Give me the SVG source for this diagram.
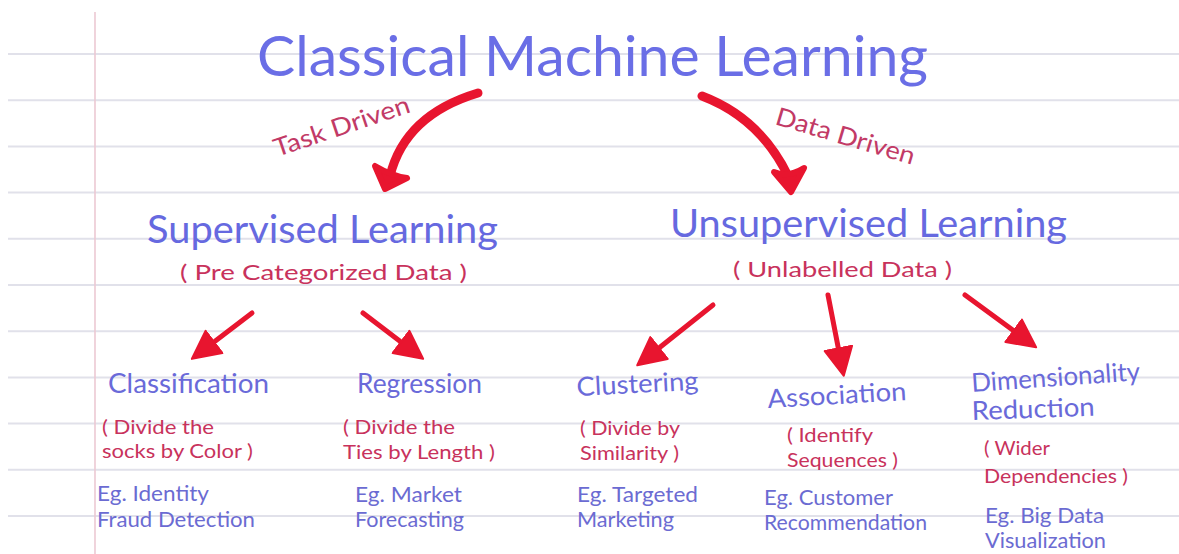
<svg xmlns="http://www.w3.org/2000/svg" width="1179" height="554" viewBox="0 0 1179 554">
  <defs>
    <style>
      .rule { stroke: #e1e1ea; stroke-width: 2; }
      .margin { stroke: #ecc9d3; stroke-width: 1.6; }
      text { font-family: "Lato", "Open Sans", "Liberation Sans", sans-serif; }
      .title { fill: #6a6ee6; font-size: 56px; }
      .head { fill: #6669e0; font-size: 38px; }
      .sub { fill: #c8325c; font-size: 22px; }
      .drive { fill: #c23a66; font-size: 25px; }
      .leaf { fill: #6a6ad9; font-size: 26px; }
      .desc { fill: #c8325c; font-size: 20px; }
      .eg { fill: #6b6bd2; font-size: 21px; }
      .big { fill: none; stroke: #e8152f; stroke-width: 9; stroke-linecap: round; stroke-linejoin: round; }
      .bighead { fill: #e8152f; stroke: #e8152f; stroke-width: 6; stroke-linejoin: round; }
      .small { fill: none; stroke: #e8152f; stroke-width: 5; stroke-linecap: round; }
    </style>
    <marker id="tri" markerUnits="userSpaceOnUse" markerWidth="32" markerHeight="32" viewBox="0 -15 28 30" refX="0" refY="0" orient="auto">
      <path d="M0,-13 L26,0 L0,13 Z" fill="#e8152f" stroke="#e8152f" stroke-width="2" stroke-linejoin="round"/>
    </marker>
  </defs>

  <rect x="0" y="0" width="1179" height="554" fill="#ffffff"/>

  <g id="paper">
    <line class="rule" x1="8" y1="54" x2="1179" y2="54"/>
    <line class="rule" x1="8" y1="100.2" x2="1179" y2="100.2"/>
    <line class="rule" x1="8" y1="146.4" x2="1179" y2="146.4"/>
    <line class="rule" x1="8" y1="192.6" x2="1179" y2="192.6"/>
    <line class="rule" x1="8" y1="238.8" x2="1179" y2="238.8"/>
    <line class="rule" x1="8" y1="285" x2="1179" y2="285"/>
    <line class="rule" x1="8" y1="331.2" x2="1179" y2="331.2"/>
    <line class="rule" x1="8" y1="377.4" x2="1179" y2="377.4"/>
    <line class="rule" x1="8" y1="423.6" x2="1179" y2="423.6"/>
    <line class="rule" x1="8" y1="469.8" x2="1179" y2="469.8"/>
    <line class="rule" x1="8" y1="516" x2="1179" y2="516"/>
    <line class="margin" x1="95" y1="12" x2="95" y2="554"/>
  </g>

  <g id="connectors">
    <path class="big" d="M478,93 Q405,115 390,176"/>
    <path class="bighead" d="M375,166 L385,189 L407,178 Q392,176 375,166 Z"/>
    <path class="big" d="M702,96 Q760,118 788,176"/>
    <path class="bighead" d="M774,172 L791,192 L804,168 Q788,178 774,172 Z"/>
    <line class="small" x1="252" y1="313" x2="214" y2="342" marker-end="url(#tri)"/>
    <line class="small" x1="363" y1="313" x2="401" y2="342" marker-end="url(#tri)"/>
    <line class="small" x1="713" y1="305" x2="659" y2="348" marker-end="url(#tri)"/>
    <line class="small" x1="828" y1="295" x2="838.4" y2="348.4" marker-end="url(#tri)"/>
    <line class="small" x1="965" y1="295" x2="1013.7" y2="330.8" marker-end="url(#tri)"/>
    <text class="drive" x="277" y="157" textLength="142" lengthAdjust="spacingAndGlyphs" transform="rotate(-18.5 277 157)">Task Driven</text>
    <text class="drive" x="774" y="124" textLength="144" lengthAdjust="spacingAndGlyphs" transform="rotate(16.5 774 124)">Data Driven</text>
  </g>

  <g id="root">
    <text class="title" x="257" y="76" textLength="671" lengthAdjust="spacingAndGlyphs">Classical Machine Learning</text>
  </g>

  <g id="supervised">
    <text class="head" x="147" y="243" textLength="351" lengthAdjust="spacingAndGlyphs">Supervised Learning</text>
    <text class="sub" x="180" y="280" textLength="287" lengthAdjust="spacingAndGlyphs">( Pre Categorized Data )</text>
  </g>

  <g id="unsupervised">
    <text class="head" x="670" y="237" textLength="397" lengthAdjust="spacingAndGlyphs">Unsupervised Learning</text>
    <text class="sub" x="733" y="277" textLength="219" lengthAdjust="spacingAndGlyphs">( Unlabelled Data )</text>
  </g>

  <g id="classification">
    <text class="leaf" x="108" y="393" textLength="161" lengthAdjust="spacingAndGlyphs">Classification</text>
    <text class="desc" x="102" y="434" textLength="112" lengthAdjust="spacingAndGlyphs">( Divide the</text>
    <text class="desc" x="102" y="458" textLength="151" lengthAdjust="spacingAndGlyphs">socks by Color )</text>
    <text class="eg" x="97" y="501" textLength="112" lengthAdjust="spacingAndGlyphs">Eg. Identity</text>
    <text class="eg" x="97" y="527" textLength="158" lengthAdjust="spacingAndGlyphs">Fraud Detection</text>
  </g>

  <g id="regression">
    <text class="leaf" x="357" y="393" textLength="125" lengthAdjust="spacingAndGlyphs">Regression</text>
    <text class="desc" x="343" y="434" textLength="112" lengthAdjust="spacingAndGlyphs">( Divide the</text>
    <text class="desc" x="343" y="459" textLength="152" lengthAdjust="spacingAndGlyphs">Ties by Length )</text>
    <text class="eg" x="355" y="502" textLength="107" lengthAdjust="spacingAndGlyphs">Eg. Market</text>
    <text class="eg" x="355" y="527" textLength="109" lengthAdjust="spacingAndGlyphs">Forecasting</text>
  </g>

  <g id="clustering">
    <text class="leaf" x="577" y="396" textLength="122" lengthAdjust="spacingAndGlyphs" transform="rotate(-3 577 396)">Clustering</text>
    <text class="desc" x="580" y="435" textLength="100" lengthAdjust="spacingAndGlyphs">( Divide by</text>
    <text class="desc" x="580" y="460" textLength="99" lengthAdjust="spacingAndGlyphs">Similarity )</text>
    <text class="eg" x="577" y="502" textLength="121" lengthAdjust="spacingAndGlyphs">Eg. Targeted</text>
    <text class="eg" x="577" y="527" textLength="97" lengthAdjust="spacingAndGlyphs">Marketing</text>
  </g>

  <g id="association">
    <text class="leaf" x="768" y="408" textLength="139" lengthAdjust="spacingAndGlyphs" transform="rotate(-3.3 768 408)">Association</text>
    <text class="desc" x="787" y="442" textLength="86" lengthAdjust="spacingAndGlyphs">( Identify</text>
    <text class="desc" x="787" y="467" textLength="111" lengthAdjust="spacingAndGlyphs">Sequences )</text>
    <text class="eg" x="764" y="505" textLength="129" lengthAdjust="spacingAndGlyphs">Eg. Customer</text>
    <text class="eg" x="764" y="530" textLength="163" lengthAdjust="spacingAndGlyphs">Recommendation</text>
  </g>

  <g id="dimensionality">
    <text class="leaf" x="972" y="392" textLength="169" lengthAdjust="spacingAndGlyphs" transform="rotate(-4 972 392)">Dimensionality</text>
    <text class="leaf" x="972" y="420" textLength="123" lengthAdjust="spacingAndGlyphs" transform="rotate(-2 972 420)">Reduction</text>
    <text class="desc" x="984" y="455" textLength="66" lengthAdjust="spacingAndGlyphs">( Wider</text>
    <text class="desc" x="984" y="483" textLength="144" lengthAdjust="spacingAndGlyphs">Dependencies )</text>
    <text class="eg" x="985" y="523" textLength="119" lengthAdjust="spacingAndGlyphs">Eg. Big Data</text>
    <text class="eg" x="985" y="548" textLength="121" lengthAdjust="spacingAndGlyphs">Visualization</text>
  </g>
</svg>
